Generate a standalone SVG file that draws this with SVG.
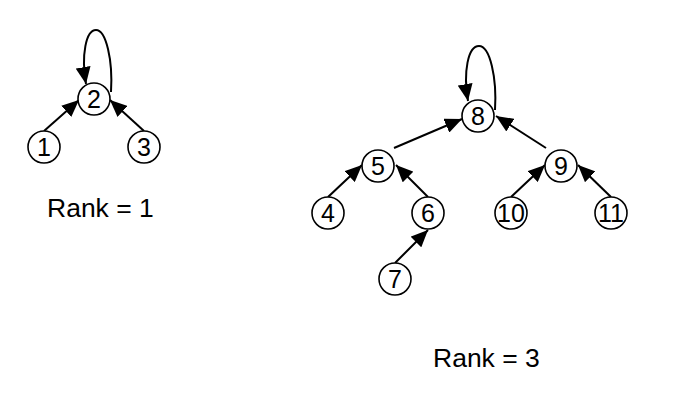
<svg xmlns="http://www.w3.org/2000/svg" width="690" height="406" viewBox="0 0 690 406">
<style>
.node circle{fill:#fff;stroke:#000;stroke-width:1.6}
.node text{font-family:"Liberation Sans",Arial,sans-serif;font-size:25px;text-anchor:middle;fill:#000}
.edge{fill:none;stroke:#000;stroke-width:2;marker-end:url(#ah)}
.lbl{font-family:"Liberation Sans",Arial,sans-serif;font-size:26.5px;fill:#000}
</style>
<defs>
<marker id="ah" markerUnits="userSpaceOnUse" markerWidth="18" markerHeight="15" refX="17" refY="7.5" orient="auto">
<path d="M0,0 L17,7.5 L0,15 Z" fill="#000"/>
</marker>
</defs>
<rect width="690" height="406" fill="#fff"/>
<g id="connectors">
<line class="edge" x1="44" y1="131" x2="79" y2="100"/>
<line class="edge" x1="144" y1="131" x2="110" y2="100"/>
<path class="edge" d="M111,92 C113,60 106,30 96,30 C86,30 81,55 86,84"/>
<line class="edge" x1="394" y1="148" x2="462" y2="119"/>
<line class="edge" x1="546" y1="148" x2="496" y2="116"/>
<line class="edge" x1="328" y1="197" x2="362" y2="165"/>
<line class="edge" x1="428" y1="197" x2="396" y2="165"/>
<line class="edge" x1="511" y1="197" x2="545" y2="165"/>
<line class="edge" x1="611" y1="197" x2="578" y2="165"/>
<line class="edge" x1="395" y1="263" x2="428" y2="230"/>
<path class="edge" d="M495,110 C497,78 490,46 479,46 C468,46 463,72 468,101"/>
</g>
<g id="n1" class="node"><circle cx="44" cy="147" r="16"/><text x="44" y="156">1</text></g>
<g id="n2" class="node"><circle cx="94" cy="99" r="16"/><text x="94" y="108">2</text></g>
<g id="n3" class="node"><circle cx="144" cy="147" r="16"/><text x="144" y="156">3</text></g>
<g id="n8" class="node"><circle cx="478" cy="116" r="16"/><text x="478" y="125">8</text></g>
<g id="n5" class="node"><circle cx="378" cy="166" r="16"/><text x="378" y="175">5</text></g>
<g id="n9" class="node"><circle cx="561" cy="166" r="16"/><text x="561" y="175">9</text></g>
<g id="n4" class="node"><circle cx="328" cy="213" r="16"/><text x="328" y="222">4</text></g>
<g id="n6" class="node"><circle cx="428" cy="213" r="16"/><text x="428" y="222">6</text></g>
<g id="n10" class="node"><circle cx="511" cy="213" r="16"/><text x="511" y="222">10</text></g>
<g id="n11" class="node"><circle cx="611" cy="213" r="16"/><text x="611" y="222">11</text></g>
<g id="n7" class="node"><circle cx="395" cy="279" r="16"/><text x="395" y="288">7</text></g>
<text class="lbl" x="47" y="217">Rank = 1</text>
<text class="lbl" x="433" y="367">Rank = 3</text>
</svg>
